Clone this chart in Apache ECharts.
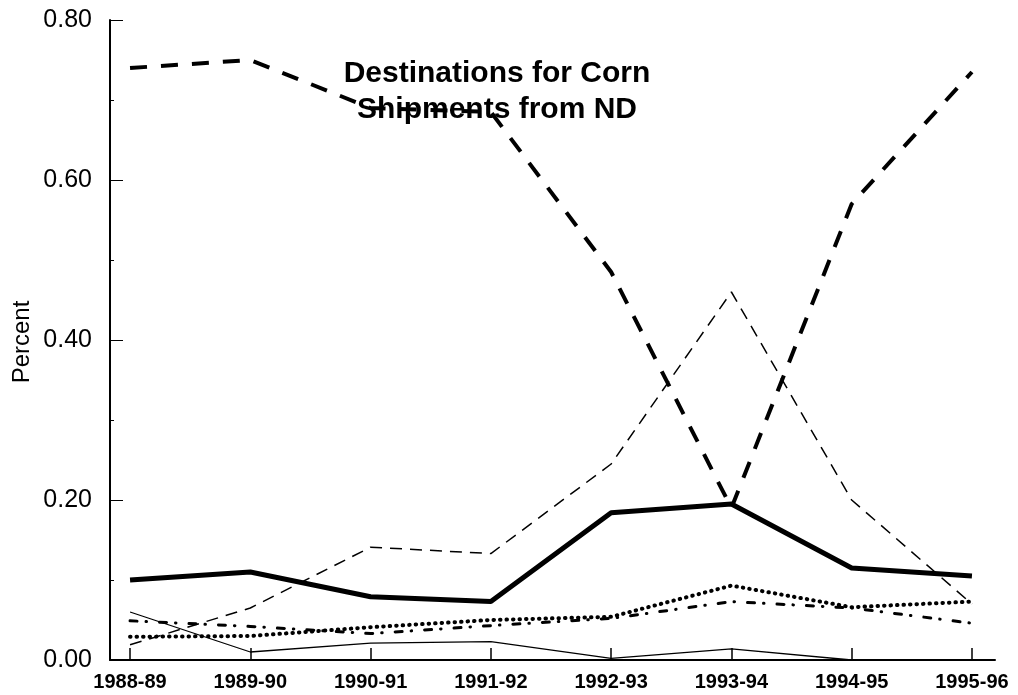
<!DOCTYPE html>
<html>
<head>
<meta charset="utf-8">
<title>Destinations for Corn Shipments from ND</title>
<script src="https://cdn.jsdelivr.net/npm/echarts@6/dist/echarts.min.js"></script>
<style>
  html, body { margin: 0; padding: 0; background: #fff; }
  #chart { width: 1018px; height: 695px; }
</style>
</head>
<body>
<div id="chart"></div>
<script>
// Marketing years on the horizontal axis
const seasons = ['1988-89', '1989-90', '1990-91', '1991-92', '1992-93', '1993-94', '1994-95', '1995-96'];

// Share of shipments going to each destination (fraction of total)
const heavyDashed = [0.74, 0.75, 0.69, 0.685, 0.485, 0.19, 0.57, 0.735];
const thinDashed  = [0.019, 0.065, 0.141, 0.133, 0.245, 0.46, 0.20, 0.07];
const heavySolid  = [0.10, 0.11, 0.079, 0.073, 0.184, 0.195, 0.115, 0.105];
const dotted      = [0.029, 0.03, 0.041, 0.05, 0.054, 0.093, 0.066, 0.073];
const dashDot     = [0.049, 0.042, 0.033, 0.043, 0.052, 0.073, 0.065, 0.046];
const thinSolid   = [0.06, 0.01, 0.021, 0.023, 0.002, 0.014, 0.0, 0.0];

// Y axis ticks
const yTicks = [0, 0.2, 0.4, 0.6, 0.8];

const toPoints = arr => arr.map((v, i) => [i, v]);
const seasonIdx = seasons.map((_, i) => i);

const chart = echarts.init(document.getElementById('chart'), null, { renderer: 'canvas' });

const lineSeries = (name, data, style) => ({
  name,
  type: 'line',
  data: toPoints(data),
  showSymbol: false,
  symbol: 'none',
  smooth: false,
  animation: false,
  lineStyle: Object.assign({ color: '#000' }, style)
});

const FONT = 'Liberation Sans, Arial, sans-serif';

chart.setOption({
  backgroundColor: '#fff',
  animation: false,
  title: {
    text: 'Destinations for Corn\nShipments from ND',
    left: 497,
    top: 56,
    padding: 0,
    textAlign: 'center',
    textStyle: {
      fontFamily: FONT,
      fontSize: 30,
      fontWeight: 'bold',
      color: '#000',
      lineHeight: 36
    }
  },
  graphic: [{
    type: 'text',
    x: 22,
    y: 342,
    rotation: Math.PI / 2,
    style: {
      text: 'Percent',
      fontFamily: FONT,
      fontSize: 24,
      fill: '#000',
      align: 'center',
      verticalAlign: 'middle'
    }
  }],
  grid: { left: 110, right: 23, top: 20, bottom: 35, containLabel: false },
  xAxis: {
    type: 'value',
    min: -20 / 120,
    max: 7 + 23 / 120,
    splitLine: { show: false },
    axisLine: { show: true, onZero: false, lineStyle: { color: '#000', width: 2 } },
    axisTick: {
      show: true,
      inside: true,
      length: 12,
      customValues: seasonIdx,
      lineStyle: { color: '#000', width: 1.5 }
    },
    axisLabel: {
      customValues: seasonIdx,
      formatter: v => seasons[Math.round(v)] || '',
      margin: 12,
      fontFamily: FONT,
      fontSize: 20,
      fontWeight: 'bold',
      color: '#000'
    }
  },
  yAxis: {
    type: 'value',
    min: 0,
    max: 0.8,
    interval: 0.2,
    splitLine: { show: false },
    axisLine: { show: true, onZero: false, lineStyle: { color: '#000', width: 2 } },
    axisTick: {
      show: true,
      inside: true,
      length: 13,
      lineStyle: { color: '#000', width: 1 }
    },
    minorTick: { show: true, splitNumber: 2, length: 4, lineStyle: { color: '#000', width: 1 } },
    axisLabel: {
      formatter: v => v.toFixed(2),
      margin: 18,
      fontFamily: FONT,
      fontSize: 25,
      color: '#000'
    }
  },
  series: [
    lineSeries('thin solid', thinSolid, { width: 1.3, type: 'solid' }),
    lineSeries('dash-dot', dashDot, { width: 3, type: [7, 9, 0.5, 13], cap: 'round' }),
    lineSeries('dotted', dotted, { width: 4, type: [0.5, 6], cap: 'round' }),
    lineSeries('thin dashed', thinDashed, { width: 1.5, type: [12, 8] }),
    lineSeries('heavy solid', heavySolid, { width: 5, type: 'solid', join: 'round' }),
    lineSeries('heavy dashed', heavyDashed, { width: 4, type: [17, 14] })
  ]
});
</script>
</body>
</html>
